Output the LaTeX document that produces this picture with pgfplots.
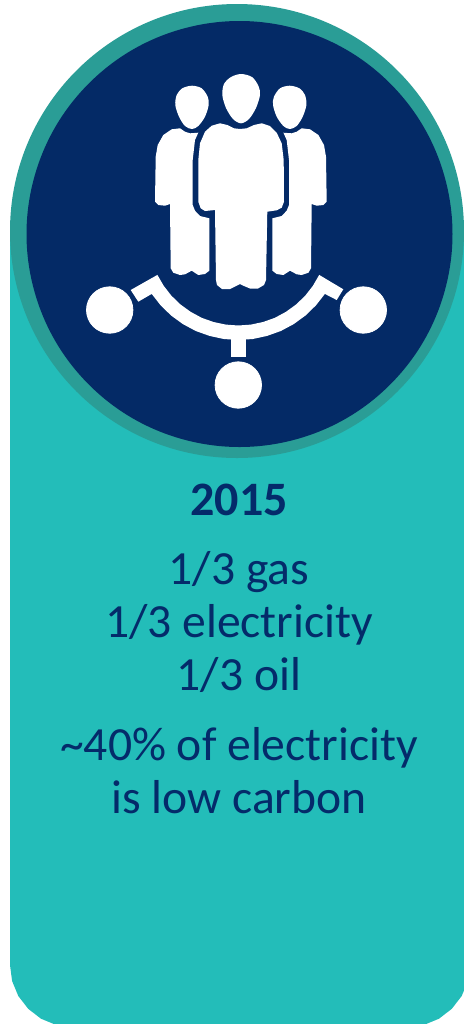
\documentclass[border=0pt]{standalone}
\usepackage{fontspec}
\newfontfamily\carlito{Carlito}
\usepackage{pgfplots}
\pgfplotsset{compat=1.18}
\definecolor{panel}{HTML}{23BDB9}
\definecolor{ring}{HTML}{2A9D96}
\definecolor{navy}{HTML}{042A66}
\definecolor{ink}{HTML}{042B6A}
\begin{document}
\begin{tikzpicture}
\begin{axis}[
  scale only axis, width=232pt, height=512pt,
  xmin=0, xmax=464, ymin=0, ymax=1024,
  y dir=reverse, hide axis, clip=false,
  icon/.style={fill=white, draw=none},
]
% panel
\addplot[fill=panel, draw=none] coordinates {
  (10,232) (470,232) (470,965) (467.9,981) (461.7,996) (451.8,1008.8) (439,1018.7) (424,1024.9) (408,1027)
  (72,1027) (56,1024.9) (41,1018.7) (28.2,1008.8) (18.3,996) (12.1,981) (10,965)
} --cycle;
% ring and disc
\addplot[fill=ring, draw=none, smooth cycle, tension=0.61] coordinates {
  (464,231) (456.3,289.8) (433.6,344.5) (397.5,391.5) (350.5,427.6) (295.8,450.3) (237,458) (178.2,450.3)
  (123.5,427.6) (76.5,391.5) (40.4,344.5) (17.7,289.8) (10,231) (17.7,172.2) (40.4,117.5) (76.5,70.5)
  (123.5,34.4) (178.2,11.7) (237,4) (295.8,11.7) (350.5,34.4) (397.5,70.5) (433.6,117.5) (456.3,172.2)
};
\addplot[fill=navy, draw=none, smooth cycle, tension=0.61] coordinates {
  (452.5,234) (445.2,289.1) (424,340.5) (390.1,384.6) (346,418.5) (294.6,439.7) (239.5,447) (184.4,439.7)
  (133,418.5) (88.9,384.6) (55,340.5) (33.8,289.1) (26.5,234) (33.8,178.9) (55,127.5) (88.9,83.4)
  (133,49.5) (184.4,28.3) (239.5,21) (294.6,28.3) (346,49.5) (390.1,83.4) (424,127.5) (445.2,178.9)
};
% heads
\addplot[icon, smooth cycle] coordinates {
  (192,85.7) (201.7,88.3) (207.7,96.7) (208.7,105) (205,116.7) (198.3,126) (192,129) (185,126) (179,116.7) (175.3,105) (176.7,95) (182.3,88.3)
};
\addplot[icon, smooth cycle] coordinates {
  (241,74) (252,77) (258.5,86) (260,95) (256,108) (249,119) (241,123.3) (233,119) (226,108) (222.3,95) (224,84) (231,77)
};
\addplot[icon, smooth cycle] coordinates {
  (289.7,85.7) (299.4,88.3) (305,95) (306.4,105) (302.7,116.7) (296.7,126) (289.7,129) (283.4,126) (276.7,116.7) (273,105) (274,96.7) (280,88.3)
};
% bodies
\addplot[icon] coordinates {
  (180,128.3) (185,131.7) (190,133.3) (198.3,132.7) (195,140) (192.7,160) (192.7,205) (195,210.7) (200,216) (209.3,218.3)
  (209.3,270.7) (205,274) (198.3,275) (191.7,270.7) (185,274.3) (180,275) (173.3,272.7) (170.7,268.3) (170,204)
  (165,205.7) (158.3,205) (155,201.7) (155.7,156.7) (157.7,145) (163.3,135) (171.7,129.3)
} --cycle;
\addplot[icon] coordinates {
  (301.7,128.3) (296.7,131.7) (291.7,133.3) (283.4,132.7) (286.7,140) (289,160) (289,205) (286.7,210.7) (281.7,216) (272.4,218.3)
  (272.4,270.7) (276.7,274) (283.4,275) (290,270.7) (296.7,274.3) (301.7,275) (308.4,272.7) (311,268.3) (311.7,204)
  (316.7,205.7) (323.4,205) (326.7,201.7) (326,156.7) (324,145) (318.4,135) (310,129.3)
} --cycle;
\addplot[icon] coordinates {
  (240,129) (246.7,128.3) (254,125) (261.7,123.3) (270,126) (276.7,132.7) (281.7,143.3) (283.7,160) (284,201.7) (281.7,207.7) (276.7,210.3) (267.3,211.7)
  (266,280) (264,285) (258,288.5) (250,288.5) (244,286) (240,284) (236,286) (230,289) (222,289) (217,285) (216,280)
  (215,210) (205,211) (200.7,208.3) (198.3,201.7) (198.3,160) (200,143.3) (205,131.7) (211.7,125.7) (220,123.3) (227.3,125) (234,128.3)
} --cycle;
% arc with its two tabs
\addplot[icon] coordinates {
  (130.7,290) (157.4,274.9) (163.7,285.8) (171.4,295.7) (180.4,304.4) (190.6,311.8) (201.7,317.8) (213.5,322) (225.8,324.6) (238.3,325.5)
  (250.8,324.6) (263.1,322) (274.9,317.8) (286,311.8) (296.2,304.4) (305.2,295.7) (312.9,285.8) (319.2,274.9) (343.3,289.3)
  (336.7,300) (324.9,293.9) (315.9,305.4) (305.5,315.5) (293.7,324.1) (280.8,331) (267.1,335.9) (252.8,339) (238.3,340)
  (223.8,339) (209.5,335.9) (195.8,331) (182.9,324.1) (171.1,315.5) (160.7,305.4) (151.7,293.9) (138.3,301.7)
} --cycle;
% stem
\addplot[icon] coordinates {(231,338) (245.7,338) (245.7,357) (231,357)} --cycle;
% three dots
\addplot[only marks, mark=*, mark size=11.6pt, mark options={fill=white, draw=white}] coordinates {(109.7,310) (363.3,310) (238.3,385)};
% text
\node[anchor=base, text=ink, font=\fontsize{24}{28}\selectfont\carlito\bfseries] at (axis cs:239,515) {2015};
\node[anchor=base, text=ink, font=\fontsize{23.8}{28}\selectfont\carlito] at (axis cs:239,584) {1/3 gas};
\node[anchor=base, text=ink, font=\fontsize{23.8}{28}\selectfont\carlito] at (axis cs:239,637) {1/3 electricity};
\node[anchor=base, text=ink, font=\fontsize{23.8}{28}\selectfont\carlito] at (axis cs:239,690) {1/3 oil};
\node[anchor=base, text=ink, font=\fontsize{23.8}{28}\selectfont\carlito] at (axis cs:239,760) {\textasciitilde 40\% of electricity};
\node[anchor=base, text=ink, font=\fontsize{23.8}{28}\selectfont\carlito] at (axis cs:239,813) {is low carbon};
\end{axis}
\pgfresetboundingbox
\useasboundingbox (0,0) rectangle (232pt,512pt);
\end{tikzpicture}
\end{document}
